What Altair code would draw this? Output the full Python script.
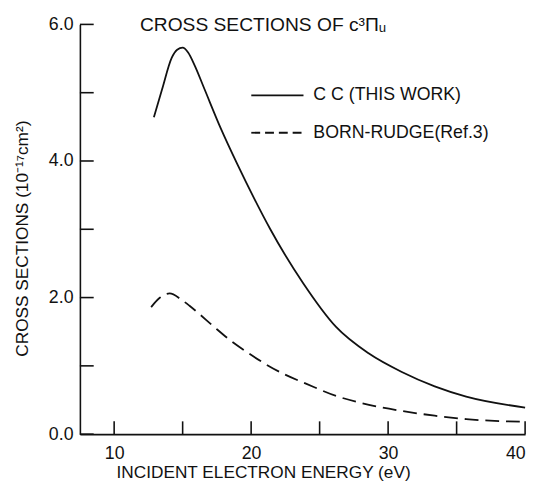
import altair as alt
import pandas as pd

# CC (this work) curve
cc_energy = [12.9, 13.5, 14.2, 14.6, 15.0, 15.4, 15.9, 16.6, 17.8, 19.0, 20.2, 21.4, 23.8, 26.2, 28.6, 31.0, 33.4, 35.7, 40.0]
cc_sigma = [4.64, 5.05, 5.51, 5.63, 5.66, 5.59, 5.39, 5.05, 4.47, 3.95, 3.46, 3.00, 2.21, 1.57, 1.18, 0.91, 0.70, 0.55, 0.39]

# Born-Rudge (Ref. 3) curve
br_energy = [12.7, 13.35, 14.05, 14.9, 15.5, 16.1, 17.3, 18.5, 19.7, 21.1, 22.6, 24.0, 26.2, 28.6, 31.0, 33.4, 35.7, 40.0]
br_sigma = [1.86, 2.00, 2.06, 1.97, 1.88, 1.78, 1.57, 1.37, 1.20, 1.02, 0.86, 0.74, 0.56, 0.43, 0.34, 0.27, 0.22, 0.18]

x_ticks = [10, 15, 20, 25, 30, 35, 40]
x_labels = [10, 20, 30, 40]
y_ticks = [0, 1, 2, 3, 4, 5, 6]
y_labels = [0, 2, 4, 6]

title_text = "CROSS SECTIONS OF c³Πᵤ"
legend_cc = "C C  (THIS WORK)"
legend_br = "BORN-RUDGE(Ref.3)"
x_title = "INCIDENT ELECTRON ENERGY (eV)"
y_title = "CROSS SECTIONS (10⁻¹⁷cm²)"

W, H = 452, 416
FONT = "Liberation Sans"
INK = "#111111"

cc_df = pd.DataFrame({"E": cc_energy, "S": cc_sigma})
br_df = pd.DataFrame({"E": br_energy, "S": br_sigma})
xt_df = pd.DataFrame({"t": x_ticks})
yt_df = pd.DataFrame({"t": y_ticks})

xscale = alt.Scale(domain=[7.5, 40], nice=False, zero=False)
yscale = alt.Scale(domain=[0, 6], nice=False)

xaxis = alt.Axis(values=x_labels, ticks=False, grid=False, labelPadding=11,
                 labelFontSize=18, labelFont=FONT, labelColor=INK,
                 domainColor=INK, domainWidth=1.6,
                 title=x_title, titleFont=FONT, titleFontSize=17.5, titleFontWeight="normal",
                 titleColor=INK, titleX=186, titleY=39, titleAlign="center", titleBaseline="middle")
yaxis = alt.Axis(values=y_labels, ticks=False, grid=False, labelPadding=7, format=".1f",
                 labelFontSize=18, labelFont=FONT, labelColor=INK,
                 domainColor=INK, domainWidth=1.6,
                 title=y_title, titleFont=FONT, titleFontSize=17.5, titleFontWeight="normal",
                 titleColor=INK, titleAngle=270, titleX=-58, titleY=217,
                 titleAlign="center", titleBaseline="middle")

cc_line = alt.Chart(cc_df).mark_line(color=INK, strokeWidth=1.8, interpolate="monotone").encode(
    x=alt.X("E:Q", scale=xscale, axis=xaxis),
    y=alt.Y("S:Q", scale=yscale, axis=yaxis),
)
br_line = alt.Chart(br_df).mark_line(color=INK, strokeWidth=1.8, strokeDash=[14, 7],
                                     interpolate="monotone").encode(
    x=alt.X("E:Q", scale=xscale),
    y=alt.Y("S:Q", scale=yscale),
)

xtick_rules = alt.Chart(xt_df).mark_rule(color=INK, strokeWidth=1.6).encode(
    x=alt.X("t:Q", scale=xscale),
    y=alt.value(H),
    y2=alt.value(H - 13),
)
ytick_rules = alt.Chart(yt_df).mark_rule(color=INK, strokeWidth=1.6).encode(
    y=alt.Y("t:Q", scale=yscale),
    x=alt.value(0),
    x2=alt.value(14),
)

title_mark = alt.Chart(pd.DataFrame({"t": [title_text]})).mark_text(
    font=FONT, fontSize=19.5, color=INK, align="left", baseline="middle"
).encode(text="t:N", x=alt.value(61), y=alt.value(1))

leg_df = pd.DataFrame({"t": [legend_cc]})
leg_df2 = pd.DataFrame({"t": [legend_br]})
leg_cc_line = alt.Chart(leg_df).mark_rule(color=INK, strokeWidth=1.8).encode(
    x=alt.value(174), x2=alt.value(227), y=alt.value(72))
leg_br_line = alt.Chart(leg_df2).mark_rule(color=INK, strokeWidth=1.8, strokeDash=[9, 5]).encode(
    x=alt.value(174), x2=alt.value(227), y=alt.value(110))
leg_cc_text = alt.Chart(leg_df).mark_text(font=FONT, fontSize=18, color=INK, align="left",
                                          baseline="middle").encode(
    text="t:N", x=alt.value(237), y=alt.value(72))
leg_br_text = alt.Chart(leg_df2).mark_text(font=FONT, fontSize=18, color=INK, align="left",
                                           baseline="middle").encode(
    text="t:N", x=alt.value(237), y=alt.value(110))

chart = alt.layer(
    cc_line, br_line, xtick_rules, ytick_rules, title_mark,
    leg_cc_line, leg_br_line, leg_cc_text, leg_br_text,
).properties(
    width=W, height=H,
    autosize=alt.AutoSizeParams(type="none"),
    padding={"left": 73, "top": 13, "right": 7, "bottom": 50},
    background="white",
).configure_view(stroke=None)

chart.save("out.html", embed_options={"renderer": "svg", "actions": False})
